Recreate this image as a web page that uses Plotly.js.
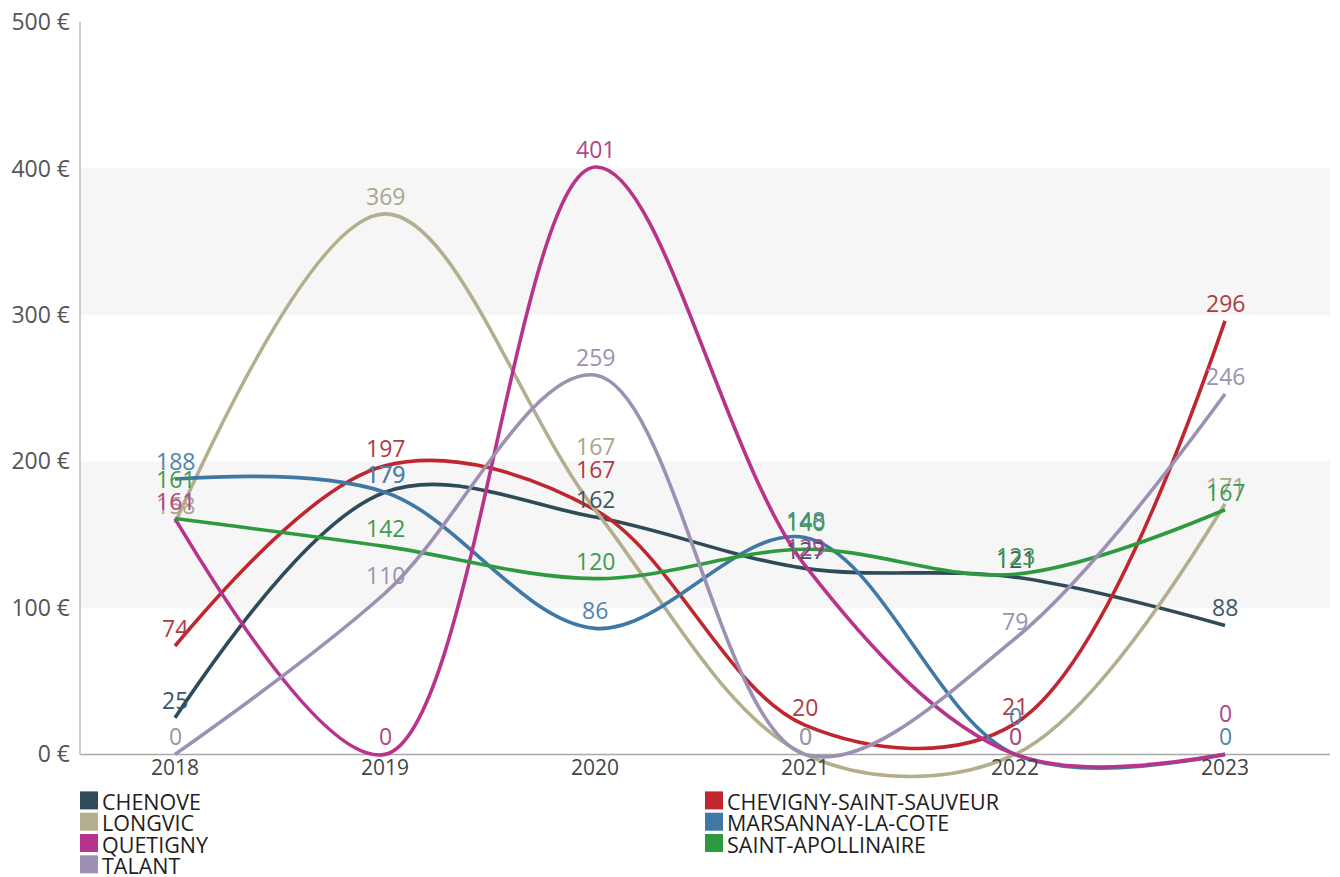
<!DOCTYPE html>
<html>
<head>
<meta charset="utf-8">
<script src="https://cdn.plot.ly/plotly-3.0.1.min.js"></script>
<style>
  html, body { margin: 0; padding: 0; background: #fff; }
  #chart { width: 1340px; height: 877px; }
</style>
</head>
<body>
<div id="chart"></div>
<script>
// Years on the x axis
const years = ['2018', '2019', '2020', '2021', '2022', '2023'];

// Amount per commune and year (€)
const chenove           = [25, 179, 162, 127, 121, 88];
const chevigny          = [74, 197, 167, 20, 21, 296];
const longvic           = [158, 369, 167, 0, 0, 171];
const marsannay         = [188, 179, 86, 148, 0, 0];
const quetigny          = [161, 0, 401, 129, 0, 0];
const saintApollinaire  = [161, 142, 120, 140, 123, 167];
const talant            = [0, 110, 259, 0, 79, 246];

const seriesNames = ['CHENOVE', 'CHEVIGNY-SAINT-SAUVEUR', 'LONGVIC', 'MARSANNAY-LA-COTE',
                     'QUETIGNY', 'SAINT-APOLLINAIRE', 'TALANT'];
const seriesValues = [chenove, chevigny, longvic, marsannay, quetigny, saintApollinaire, talant];
const lineColors = ['#2f4a59', '#c0262e', '#b3ae8e', '#3f78a4', '#b8338b', '#2e9a3f', '#9c90b3'];
const textColors = ['#3d5665', '#b03b45', '#aaa58a', '#4f84ad', '#b0458d', '#3e9a4c', '#9c92b0'];

// Extra upward nudge (px) for value labels that would sit on top of another one
const labelNudge = {
  'CHEVIGNY-SAINT-SAUVEUR': [0, 0, 23, 0, 0, 0],
  'LONGVIC':                [0, 0, 46, 0, 0, 0],
  'MARSANNAY-LA-COTE':      [0, 0, 0, 0, 20, 0],
  'QUETIGNY':               [0, 0, 0, 0, 0, 23],
  'SAINT-APOLLINAIRE':      [22, 0, 0, 9, 0, 0]
};

// Years placed on a numeric axis so curves and labels share one scale
const xIdx = years.map((_, i) => i);

const FONT = 'Open Sans, sans-serif';

const traces = seriesValues.map((vals, k) => ({
  type: 'scatter',
  mode: 'lines',
  name: seriesNames[k],
  x: xIdx,
  y: vals,
  line: { color: lineColors[k], width: 3.6, shape: 'spline', smoothing: 1 },
  hoverinfo: 'x+y+name',
  showlegend: false
}));

// Plot area geometry in pixels (used for the legend placed under the axis)
const W = 1340, H = 877;
const mL = 80, mR = 10, mT = 22;
const yMin = -25, yMax = 500;
const pxPerUnit = 732 / 500;
const plotH = (yMax - yMin) * pxPerUnit;
const mB = H - mT - plotH;
const plotW = W - mL - mR;
const px2x = px => (px - mL) / plotW;
const py2y = py => (mT + plotH - py) / plotH;

const shapes = [
  // light horizontal bands
  { type: 'rect', xref: 'paper', yref: 'y', x0: 0, x1: 1, y0: 100, y1: 200,
    fillcolor: '#f6f6f6', line: { width: 0 }, layer: 'below' },
  { type: 'rect', xref: 'paper', yref: 'y', x0: 0, x1: 1, y0: 300, y1: 400,
    fillcolor: '#f6f6f6', line: { width: 0 }, layer: 'below' },
  // axis lines
  { type: 'line', xref: 'paper', yref: 'y', x0: 0, x1: 1, y0: 0, y1: 0,
    line: { color: '#a9a9a9', width: 1.5 }, layer: 'below' },
  { type: 'line', xref: 'paper', yref: 'y', x0: 0, x1: 0, y0: 0, y1: 500,
    line: { color: '#bdbdbd', width: 1.5 }, layer: 'below' }
];

const annotations = [];

// Value labels above each point
seriesValues.forEach((vals, k) => {
  const nudge = labelNudge[seriesNames[k]] || [0, 0, 0, 0, 0, 0];
  vals.forEach((v, i) => {
    annotations.push({
      x: xIdx[i], y: v, xref: 'x', yref: 'y', text: String(v), showarrow: false,
      xanchor: 'center', yanchor: 'middle', yshift: 18 + nudge[i],
      font: { family: FONT, size: 23, color: textColors[k] }
    });
  });
});

// Year labels sitting just under the zero line
years.forEach((yr, i) => {
  annotations.push({
    x: i, y: 0, xref: 'x', yref: 'y', text: yr, showarrow: false,
    xanchor: 'center', yanchor: 'top', yshift: 3,
    font: { family: FONT, size: 21, color: '#444' }
  });
});

// Two-column legend with square swatches
const legendOrder = [
  { k: 0, col: 0, row: 0 }, { k: 2, col: 0, row: 1 }, { k: 4, col: 0, row: 2 }, { k: 6, col: 0, row: 3 },
  { k: 1, col: 1, row: 0 }, { k: 3, col: 1, row: 1 }, { k: 5, col: 1, row: 2 }
];
const colX = [80, 705];
const rowY0 = 791, rowPitch = 21.3, sw = 18;
legendOrder.forEach(({ k, col, row }) => {
  const x0 = colX[col], y0 = rowY0 + row * rowPitch;
  shapes.push({
    type: 'rect', xref: 'paper', yref: 'paper',
    x0: px2x(x0), x1: px2x(x0 + sw), y0: py2y(y0 + sw), y1: py2y(y0),
    fillcolor: lineColors[k], line: { width: 0 }
  });
  annotations.push({
    xref: 'paper', yref: 'paper', x: px2x(x0 + sw + 3), y: py2y(y0 + sw / 2 + 1),
    text: seriesNames[k], showarrow: false, xanchor: 'left', yanchor: 'middle',
    borderpad: 0,
    font: { family: FONT, size: 21.5, color: '#1e1e1e' }
  });
});

const layout = {
  width: W, height: H,
  margin: { l: mL, r: mR, t: mT, b: mB, pad: 0 },
  paper_bgcolor: '#ffffff',
  plot_bgcolor: '#ffffff',
  showlegend: false,
  xaxis: {
    range: [-95 / 210, 5 + 105 / 210],
    showgrid: false, zeroline: false, showline: false,
    showticklabels: false, ticks: ''
  },
  yaxis: {
    range: [yMin, yMax],
    tickmode: 'array',
    tickvals: [0, 100, 200, 300, 400, 500],
    ticktext: ['0 €', '100 €', '200 €', '300 €', '400 €', '500 €'],
    showgrid: false, zeroline: false, showline: false, ticks: '',
    ticklabelstandoff: 9,
    tickfont: { family: FONT, size: 23, color: '#555' }
  },
  shapes: shapes,
  annotations: annotations
};

Plotly.newPlot('chart', traces, layout, { displayModeBar: false, responsive: false });
</script>
</body>
</html>
